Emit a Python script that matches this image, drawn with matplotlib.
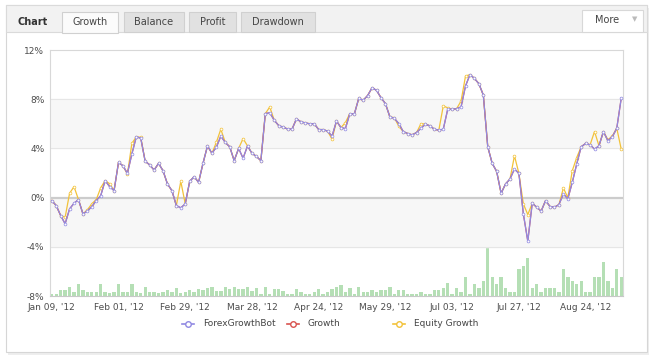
import matplotlib
matplotlib.use('Agg')
import matplotlib.pyplot as plt
from matplotlib.patches import Rectangle
from matplotlib.lines import Line2D

# growth in %, one point per trading day
bot_growth = [-0.24, -0.65, -1.46, -2.13, -0.92, -0.46, -0.16, -1.32, -1.10, -0.73,
              -0.24, 0.16, 1.38, 0.89, 0.57, 2.86, 2.59, 1.97, 3.54, 4.94,
              4.83, 2.94, 2.67, 2.24, 2.78, 2.19, 1.11, 0.57, -0.65, -0.83,
              -0.51, 1.32, 1.70, 1.24, 2.80, 4.20, 3.60, 4.10, 5.00, 4.48,
              4.13, 3.00, 4.00, 3.20, 4.20, 3.60, 3.35, 3.00, 6.83, 6.90,
              6.29, 5.86, 5.72, 5.58, 5.56, 6.40, 6.16, 6.07, 6.00, 6.00,
              5.53, 5.53, 5.40, 5.00, 6.23, 5.69, 5.61, 6.83, 6.78, 8.07,
              7.91, 8.30, 8.93, 8.72, 8.12, 7.64, 6.56, 6.45, 6.02, 5.37,
              5.21, 5.10, 5.29, 5.64, 5.97, 5.83, 5.56, 5.48, 5.56, 7.18,
              7.18, 7.23, 7.37, 9.07, 10.00, 9.69, 9.26, 8.34, 4.13, 2.78,
              2.13, 0.35, 1.11, 1.51, 2.32, 1.97, -1.32, -3.54, -0.46, -0.78,
              -1.10, -0.24, -0.73, -0.78, -0.57, 0.30, -0.10, 1.24, 2.73, 4.13,
              4.40, 4.29, 3.94, 4.21, 5.37, 4.62, 4.94, 5.64, 8.07]

equity_growth = [-0.24, -0.65, -1.46, -1.60, 0.35, 0.89, -0.16, -1.32, -1.00, -0.50,
                 -0.16, 0.80, 1.38, 1.13, 0.57, 2.86, 2.59, 1.90, 4.40, 4.94,
                 4.90, 2.94, 2.67, 2.24, 2.78, 2.19, 1.11, 0.57, -0.65, 1.32,
                 -0.51, 1.32, 1.70, 1.24, 2.80, 4.20, 3.60, 4.50, 5.56, 4.48,
                 4.13, 3.00, 4.00, 4.80, 4.20, 3.60, 3.35, 3.00, 6.83, 7.37,
                 6.29, 5.86, 5.72, 5.58, 5.56, 6.40, 6.16, 6.07, 6.00, 6.00,
                 5.53, 5.53, 5.40, 4.75, 6.23, 5.69, 6.10, 6.83, 6.78, 8.07,
                 7.91, 8.30, 8.93, 8.72, 8.12, 7.64, 6.56, 6.50, 5.80, 5.37,
                 5.21, 5.10, 5.29, 6.02, 5.97, 5.83, 5.56, 5.48, 7.45, 7.30,
                 7.18, 7.23, 7.85, 9.88, 10.00, 9.69, 9.26, 8.34, 4.13, 2.78,
                 2.13, 0.35, 1.11, 1.51, 3.40, 1.97, -0.51, -1.38, -0.46, -0.78,
                 -1.10, -0.24, -0.73, -0.78, -0.57, 0.78, 0.00, 2.19, 3.26, 4.13,
                 4.40, 4.29, 5.37, 4.21, 5.37, 4.70, 5.00, 5.64, 3.94]

volume = [1.7, 1.7, 6, 6, 9.3, 4.3, 11.7, 6, 4.3, 4.3, 4.3, 11.7, 3.7, 2.7, 4.3, 11.7,
          3.7, 4.3, 11.7, 4.3, 2.7, 9.3, 4.3, 3.7, 2.7, 3.7, 6, 4.3, 7.7, 2.7, 4.3, 6,
          4.3, 7, 6, 7.7, 9.3, 5.3, 5.3, 9.3, 7, 9.3, 7, 7, 9.3, 5.3, 7.7, 2,
          9.3, 2, 7, 7, 5.3, 2, 2, 7, 3.7, 2, 2, 4.3, 7, 2, 4.3, 7,
          9.3, 11, 4.3, 7.7, 2, 9.3, 4.3, 4.3, 6, 4.3, 6, 6, 9.3, 2, 6, 6,
          2, 2, 2, 3.7, 2, 2, 6, 6, 7.7, 13.3, 2, 7.7, 4.3, 19.3, 2, 11.7,
          7.7, 15.3, 49.3, 19.3, 11.7, 19.3, 7.7, 4.3, 4.3, 26.7, 30.3, 37.7, 7.7, 11.7, 4.3, 7.7,
          7.7, 7.7, 4.3, 26.7, 19.3, 15.3, 11.7, 15.3, 4.3, 4.3, 19.3, 19.3, 34.3, 15.3, 7.7, 26.7,
          19.3]

tick_labels = ["Jan 09, '12", "Feb 01, '12", "Feb 29, '12", "Mar 28, '12", "Apr 24, '12",
               "May 29, '12", "Jul 03, '12", "Jul 27, '12", "Aug 24, '12"]
tabs = ['Growth', 'Balance', 'Profit', 'Drawdown']

W, H = 652, 363
fig = plt.figure(figsize=(W / 100, H / 100), dpi=100)
plt.rcParams['font.family'] = 'DejaVu Sans'


def box(x, y, w, h, fc, ec, lw=0.8, z=-5):
    fig.add_artist(Rectangle((x / W, 1 - (y + h) / H), w / W, h / H, transform=fig.transFigure,
                             facecolor=fc, edgecolor=ec, lw=lw, zorder=z))


def label(x, y, s, **kw):
    fig.text(x / W, 1 - y / H, s, va='center', **kw)


# panel, header and tabs
box(8, 8, 641, 347, '#eeeeee', 'none', z=-7)
box(6, 5, 641, 347, 'white', '#d6d6d6', z=-6)
box(6, 5, 641, 27, '#f2f2f2', '#dadada')
label(17, 22, 'Chart', fontsize=7, fontweight='bold', color='#333333')
tab_x = [62, 124, 189, 241]
tab_w = [56, 60, 47, 74]
for i, t in enumerate(tabs):
    fc = '#fbfbfb' if i == 0 else '#e1e1e1'
    box(tab_x[i], 12, tab_w[i], 20 if i else 21, fc, '#d0d0d0', z=-4)
    label(tab_x[i] + tab_w[i] / 2, 22, t, ha='center', fontsize=7, color='#444444')
box(582, 10, 61, 22, 'white', '#d8d8d8', z=-4)
label(607, 20, 'More', ha='center', fontsize=7, color='#444444')
label(635, 19, '\u25bc', ha='center', fontsize=5, color='#bbbbbb')

# main chart
ax = fig.add_axes([50 / W, 1 - 296 / H, 573 / W, 246 / H])
ax2 = ax.twinx()
ax.set_zorder(ax2.get_zorder() + 1)
ax.patch.set_visible(False)

x = list(range(len(bot_growth)))
ax2.bar(x, volume, width=0.75, color='#b5dfb5', linewidth=0)
ax2.set_ylim(0, 246)
ax2.set_yticks([])
for s in ax2.spines.values():
    s.set_visible(False)

ax.axhspan(4, 8, color='#f7f7f7', zorder=0)
ax.axhspan(-4, 0, color='#f7f7f7', zorder=0)
for v in [-4, 4, 8]:
    ax.axhline(v, color='#e6e6e6', lw=0.8, zorder=1)
ax.axhline(0, color='#cccccc', lw=1.6, zorder=1)

mk = dict(marker='o', markersize=2.0, markerfacecolor='white', markeredgewidth=0.5)
ax.plot(x, equity_growth, color='#f2c23a', lw=0.9, zorder=3, **mk)
ax.plot(x, bot_growth, color='#d9534f', lw=0.9, zorder=4)
ax.plot(x, bot_growth, color='#9089e2', lw=0.9, zorder=5, **mk)

ax.set_xlim(-0.4, 128.4)
ax.set_ylim(-8, 12)
ax.set_yticks([-8, -4, 0, 4, 8, 12])
ax.set_yticklabels(['-8%', '-4%', '0%', '4%', '8%', '12%'])
ax.set_xticks(range(0, 121, 15))
ax.set_xticklabels(tick_labels)
ax.tick_params(axis='both', length=0, labelsize=6.5, colors='#4d4d4d')
ax.tick_params(axis='x', pad=5)
ax.tick_params(axis='y', pad=4)
for s in ax.spines.values():
    s.set_color('#d8d8d8')
    s.set_linewidth(0.8)
ax.spines['bottom'].set_color('#c8c8c8')

# legend
legend = [('ForexGrowthBot', '#9089e2', 182), ('Growth', '#d9534f', 287), ('Equity Growth', '#f2c23a', 393)]
for name, col, lx in legend:
    fig.add_artist(Line2D([lx / W, (lx + 12) / W], [1 - 324 / H] * 2, transform=fig.transFigure,
                          color=col, lw=1.2))
    fig.add_artist(Line2D([(lx + 6) / W], [1 - 324 / H], transform=fig.transFigure, color=col,
                          marker='o', markersize=4, markerfacecolor='white', markeredgewidth=1))
    label(lx + 21, 323.5, name, fontsize=6.5, color='#444444')

fig.savefig('out.png', dpi=100)
